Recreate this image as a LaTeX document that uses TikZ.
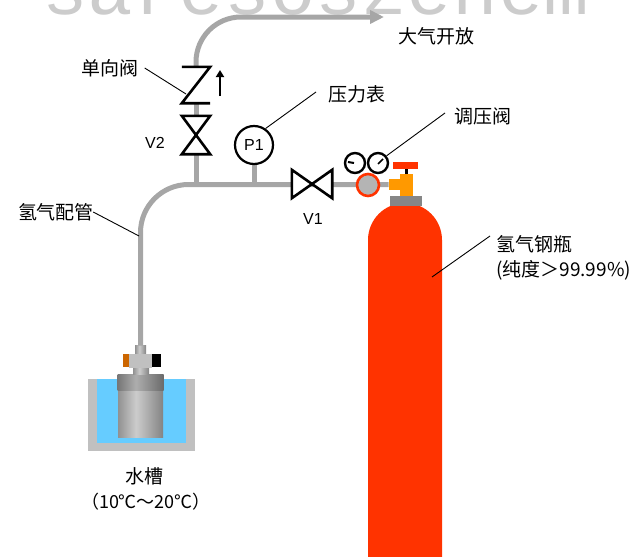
\documentclass[tikz,border=0pt]{standalone}
\usepackage{fontspec}
\setmainfont{Liberation Sans}
\newfontfamily\cjk{Noto Sans CJK SC}
\newfontfamily\markfont{Liberation Mono}
\usetikzlibrary{arrows.meta,positioning,calc}
\definecolor{pipegray}{HTML}{A6A6A6}
\definecolor{bottlered}{HTML}{FF3300}
\definecolor{valveorange}{HTML}{FF9900}
\definecolor{plugorange}{HTML}{CC6600}
\definecolor{watercyan}{HTML}{66CCFF}
\definecolor{tankgray}{HTML}{C0C0C0}
\definecolor{collargray}{HTML}{868686}
\definecolor{regfill}{HTML}{B4B4B4}
\pgfdeclarehorizontalshading{steel}{100bp}{color(0bp)=(black!72); color(45bp)=(white!80!black); color(100bp)=(black!72)}
\pgfdeclarehorizontalshading{steeldark}{100bp}{color(0bp)=(black!80); color(45bp)=(white!68!black); color(100bp)=(black!80)}

\begin{document}
\begin{tikzpicture}[x=1pt,y=-1pt,
    pipe/.style={draw=pipegray,line width=5pt},
    valve/.style={draw=black,line width=2.6pt,fill=white,line join=miter},
    lead/.style={draw=black,line width=0.9pt},
    lbl/.style={font=\cjk\fontsize{19}{25}\selectfont,inner sep=0pt},
    tag/.style={font=\fontsize{16}{18}\selectfont,inner sep=0pt}]
  \useasboundingbox (0,0) rectangle (633,557);
  % faint lettering along the top edge
  \begin{scope}
    \clip (0,0) rectangle (633,557);
    \node[anchor=base west,inner sep=0pt,text depth=0pt,text=black!20,font=\markfont\fontsize{76}{76}\selectfont] (mark) at (42,14) {saresoszenem};
  \end{scope}

  % water bath
  \fill[tankgray] (88,379) rectangle (195,451);
  \fill[watercyan] (97,379) rectangle (186,443);

  % vessel in the bath
  \node[shading=steel,minimum width=45pt,minimum height=46pt,inner sep=0pt,anchor=north] (probe) at (140.5,391) {};
  \node[shading=steeldark,minimum width=46pt,minimum height=15.5pt,inner sep=0pt,anchor=south] (cap) at (140.5,390.5) {};
  \node[shading=steel,minimum width=16pt,minimum height=7pt,inner sep=0pt,anchor=south] (neck) at (141,375) {};
  \node[fill=tankgray,minimum width=23pt,minimum height=14pt,inner sep=0pt,anchor=south] (fitting) at (140.5,368) {};
  \node[fill=plugorange,minimum width=6pt,minimum height=13pt,inner sep=0pt,anchor=east] (plug) at (fitting.west) {};
  \node[fill=black,minimum width=9pt,minimum height=13pt,inner sep=0pt,anchor=west] (cable) at (fitting.east) {};
  \node[shading=steel,minimum width=11pt,minimum height=8pt,inner sep=0pt,anchor=south] (stub) at (140.5,354) {};

  % gas cylinder
  \fill[bottlered] (368,557) -- (368,240) arc[start angle=180,end angle=360,radius=37] -- (442,557) -- cycle;
  \fill[collargray] (390,196) rectangle (422,206);
  \fill[valveorange] (400,174) rectangle (413,196);
  \node[fill=valveorange,minimum width=12pt,minimum height=11pt,inner sep=0pt,anchor=east] (port) at (401,184.5) {};
  \fill (404.5,169) rectangle (407.5,174);
  \fill[bottlered] (393,162) rectangle (418,169);

  % piping
  \coordinate (tee) at (196,184);
  \coordinate (stem) at (254,184);
  \coordinate (vent) at (384,17);
  \draw[pipe,rounded corners=48pt] (stub.north) |- (port.west);
  \draw[pipe] (tee) -- (196,154);
  \draw[pipe] (stem) -- (254,160);
  \draw[pipe] (196,116) -- (196,103);
  \draw[pipe,rounded corners=45pt,-{Triangle[length=14pt,width=13pt]}] (196,67) |- (vent);

  % valves and gauges
  \node[minimum width=28pt,minimum height=38pt,inner sep=0pt] (v2) at (196,135) {};
  \draw[valve] (v2.north west) -- (v2.north east) -- (v2.south west) -- (v2.south east) -- cycle;
  \node[minimum width=28pt,minimum height=36pt,inner sep=0pt] (chk) at (196,85) {};
  \draw[line width=2.6pt,line join=miter] (chk.north west) -- (chk.north east) -- (chk.south west) -- (chk.south east);
  \draw[line width=2.2pt,-{Triangle[length=7pt,width=8pt]}] (220,96) -- (220,70);
  \node[minimum width=40pt,minimum height=28pt,inner sep=0pt] (v1) at (312,184) {};
  \draw[valve] (v1.north west) -- (v1.south west) -- (v1.north east) -- (v1.south east) -- cycle;
  \node[circle,draw,line width=2.2pt,fill=white,minimum size=38pt,inner sep=0pt,tag] (p1) at (254,145) {P1};
  \node[circle,draw=bottlered,fill=regfill,line width=2.6pt,minimum size=22pt,inner sep=0pt] (reg) at (368,185) {};
  \node[circle,draw,fill=white,line width=2.4pt,minimum size=20pt,inner sep=0pt] (g1) at (355,163) {};
  \node[circle,draw,fill=white,line width=2.4pt,minimum size=20pt,inner sep=0pt] (g2) at (378,163) {};
  \draw[line width=2pt] ($(g1.center)+(-7,-1)$) -- ($(g1.center)+(-1,0)$);
  \draw[line width=1.6pt] ($(g2.center)+(0,1)$) -- ($(g2.center)+(5,-4)$);

  % labels
  \node[lbl] (vent label) at (436,36) {大气开放};
  \node[lbl] (chk label) at (110,68) {单向阀};
  \node[tag] (v2 label) at (155,143) {V2};
  \node[lbl] (p1 label) at (357,94) {压力表};
  \node[tag] (v1 label) at (313,219) {V1};
  \node[lbl] (reg label) at (483,116) {调压阀};
  \node[lbl,anchor=west,align=left] (gas label) at (496,258) {氢气钢瓶\\(纯度＞99.99\%)};
  \node[lbl] (pipe label) at (56,212) {氢气配管};
  \node[lbl] (bath label) at (144,476) {水槽};
  \node[lbl,font=\cjk\fontsize{18}{22}\selectfont] (temp label) at (146,502) {（10℃～20℃）};

  % leader lines
  \coordinate (chk pt) at (186,94);
  \coordinate (p1 end) at (316,92);
  \coordinate (reg end) at (445,113);
  \coordinate (gas pt) at (432,277);
  \coordinate (gas end) at (490,236);
  \coordinate (pipe pt) at (139,236);
  \draw[lead] ([xshift=6pt]chk label.east) -- (chk pt);
  \draw[lead] (p1.55) -- (p1 end);
  \draw[lead] (g2.40) -- (reg end);
  \draw[lead] (gas pt) -- (gas end);
  \draw[lead] ([xshift=-1pt]pipe label.east) -- (pipe pt);
\end{tikzpicture}
\end{document}
